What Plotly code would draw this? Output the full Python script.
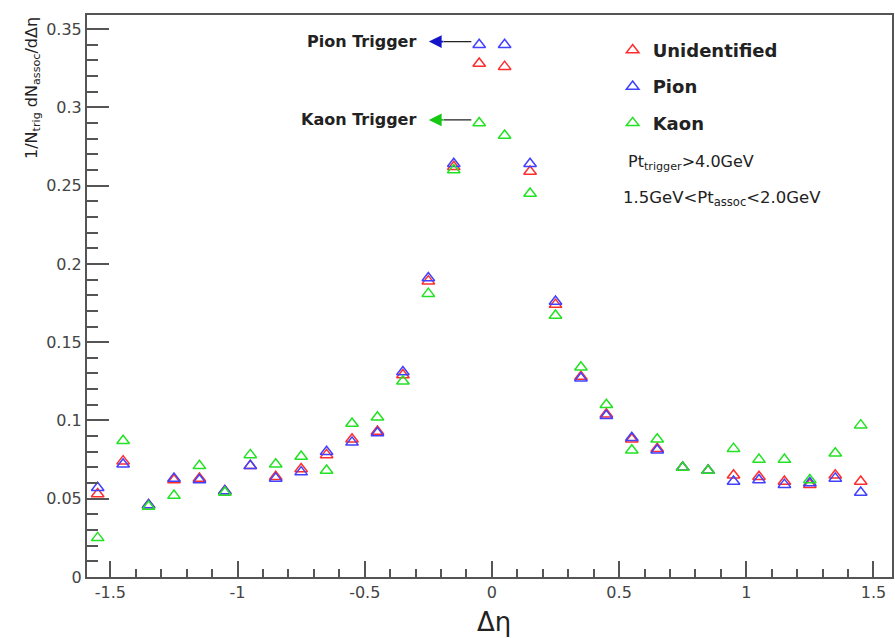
import plotly.graph_objects as go

# Δη bin centres
deta = [-1.55, -1.45, -1.35, -1.25, -1.15, -1.05, -0.95, -0.85, -0.75, -0.65,
        -0.55, -0.45, -0.35, -0.25, -0.15, -0.05, 0.05, 0.15, 0.25, 0.35,
        0.45, 0.55, 0.65, 0.75, 0.85, 0.95, 1.05, 1.15, 1.25, 1.35, 1.45]

# 1/N_trig dN_assoc/dΔη per trigger species
unidentified = [0.053, 0.074, 0.046, 0.062, 0.063, 0.055, 0.071, 0.064, 0.069, 0.078,
                0.088, 0.093, 0.129, 0.189, 0.262, 0.328, 0.326, 0.259, 0.174, 0.128,
                0.104, 0.088, 0.082, 0.070, 0.068, 0.065, 0.064, 0.061, 0.059, 0.065, 0.061]
pion = [0.057, 0.072, 0.046, 0.063, 0.062, 0.055, 0.071, 0.063, 0.067, 0.080,
        0.086, 0.092, 0.131, 0.191, 0.264, 0.340, 0.340, 0.264, 0.176, 0.127,
        0.103, 0.089, 0.081, 0.070, 0.068, 0.061, 0.062, 0.059, 0.060, 0.063, 0.054]
kaon = [0.025, 0.087, 0.045, 0.052, 0.071, 0.054, 0.078, 0.072, 0.077, 0.068,
        0.098, 0.102, 0.125, 0.181, 0.260, 0.290, 0.282, 0.245, 0.167, 0.134,
        0.110, 0.081, 0.088, 0.070, 0.068, 0.082, 0.075, 0.075, 0.062, 0.079, 0.097]

series_names = ["Unidentified", "Pion", "Kaon"]
series_values = [unidentified, pion, kaon]
series_colors = ["rgb(255,45,45)", "rgb(65,65,255)", "rgb(35,225,35)"]

x_tickvals = [-1.5, -1.0, -0.5, 0.0, 0.5, 1.0, 1.5]
x_ticktext = ["-1.5", "-1", "-0.5", "0", "0.5", "1", "1.5"]
y_tickvals = [0.0, 0.05, 0.10, 0.15, 0.20, 0.25, 0.30, 0.35]
y_ticktext = ["0", "0.05", "0.1", "0.15", "0.2", "0.25", "0.3", "0.35"]

FONT = "DejaVu Sans"
AXIS_GREY = "#555555"

fig = go.Figure()
for name, vals, col in zip(series_names, series_values, series_colors):
    fig.add_trace(go.Scatter(
        x=deta, y=vals, mode="markers", name=name, legendgroup=name,
        marker=dict(symbol="triangle-up-open", size=11, color=col,
                    line=dict(width=1.5, color=col)),
    ))

axis_common = dict(showgrid=False, zeroline=False, showline=True, mirror=True,
                   linecolor=AXIS_GREY, linewidth=2, ticks="inside",
                   tickcolor=AXIS_GREY, tickwidth=1.5,
                   tickfont=dict(family=FONT, size=16, color="#444444"))

fig.update_xaxes(range=[-1.592, 1.573], tickmode="array", tickvals=x_tickvals,
                 ticktext=x_ticktext, ticklen=16,
                 minor=dict(ticks="inside", dtick=0.1, tick0=0, ticklen=8,
                            tickcolor=AXIS_GREY, tickwidth=1.5),
                 **axis_common)
fig.update_yaxes(range=[0, 0.359], tickmode="array", tickvals=y_tickvals,
                 ticktext=y_ticktext, ticklen=22,
                 minor=dict(ticks="inside", dtick=0.01, tick0=0, ticklen=11,
                            tickcolor=AXIS_GREY, tickwidth=1.5),
                 **axis_common)

# trigger-species arrows level with the near-side peak marker:
# dark shaft plus a coloured head, label to the left
def trigger_arrow(label, y, head_color):
    fig.add_annotation(x=-0.19, y=y, ax=-0.075, ay=y, xref="x", yref="y",
                       axref="x", ayref="y", text="", showarrow=True,
                       arrowhead=0, arrowwidth=1.3, arrowcolor="#222222")
    fig.add_annotation(x=-0.248, y=y, ax=-0.185, ay=y, xref="x", yref="y",
                       axref="x", ayref="y", text="", showarrow=True,
                       arrowhead=2, arrowsize=1.6, arrowwidth=1.6,
                       arrowcolor=head_color)
    fig.add_annotation(x=-0.29, y=y, xref="x", yref="y", text=label,
                       showarrow=False, xanchor="right", yanchor="middle",
                       font=dict(family=FONT, size=16, color="#222222",
                                 weight="bold"))

marker_apex = 0.002  # arrows sit slightly above the marker centre
trigger_arrow("Pion Trigger", max(pion) + marker_apex, "rgb(20,20,200)")
trigger_arrow("Kaon Trigger", max(kaon) + marker_apex, "rgb(20,200,20)")

fig.add_annotation(xref="paper", yref="paper", x=0.670, y=0.738,
                   xanchor="left", yanchor="middle", showarrow=False,
                   text="Pt<sub>trigger</sub>&gt;4.0GeV",
                   font=dict(family=FONT, size=16, color="#222222"))
fig.add_annotation(xref="paper", yref="paper", x=0.663, y=0.674,
                   xanchor="left", yanchor="middle", showarrow=False,
                   text="1.5GeV&lt;Pt<sub>assoc</sub>&lt;2.0GeV",
                   font=dict(family=FONT, size=16.5, color="#222222"))

# axis titles
fig.add_annotation(xref="paper", yref="paper", x=0, xshift=-55, y=1,
                   xanchor="center", yanchor="top", textangle=-90,
                   showarrow=False,
                   text="1/N<sub>trig</sub> dN<sub>assoc</sub>/dΔη",
                   font=dict(family=FONT, size=16, color="#222222"))
fig.add_annotation(xref="paper", yref="paper", x=0.5056, y=-0.08,
                   xanchor="center", yanchor="middle", showarrow=False,
                   text="Δη", font=dict(family=FONT, size=26, color="#222222"))

fig.update_layout(
    width=895, height=638,
    margin=dict(l=87, r=1, t=15, b=61),
    paper_bgcolor="white", plot_bgcolor="white",
    showlegend=True,
    legend=dict(x=0.653, y=0.970, xanchor="left", yanchor="top",
                bgcolor="rgba(0,0,0,0)", traceorder="grouped",
                tracegroupgap=10,
                font=dict(family=FONT, size=18, color="#222222", weight="bold")),
)

fig.write_html("out.html")
